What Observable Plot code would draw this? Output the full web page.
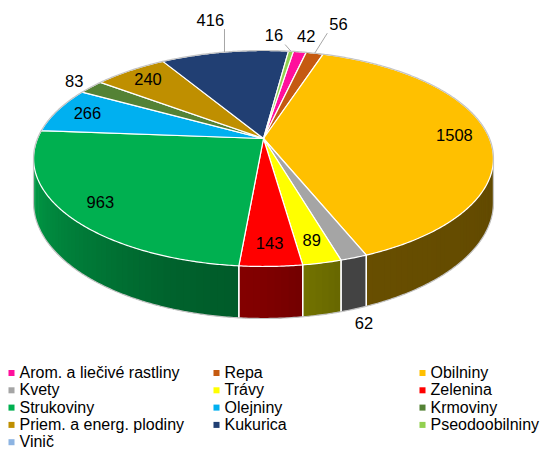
<!DOCTYPE html>
<html>
<head>
<meta charset="utf-8">
<script src="https://cdn.jsdelivr.net/npm/d3@7"></script>
<script src="https://cdn.jsdelivr.net/npm/@observablehq/plot@0.6"></script>
<style>
  html, body { margin: 0; padding: 0; background: #fff; }
  #chart { width: 540px; height: 451px; overflow: hidden; }
</style>
</head>
<body>
<div id="chart"></div>
<script>
// ---------- data ----------
const categories = ["Arom. a liečivé rastliny", "Repa", "Obilniny", "Kvety", "Trávy", "Zelenina",
  "Strukoviny", "Olejniny", "Krmoviny", "Priem. a energ. plodiny", "Kukurica", "Pseodoobilniny", "Vinič"];
const values = [42, 56, 1508, 62, 89, 143, 963, 266, 83, 240, 416, 16, 0];
const colors = ["#FF109C", "#C55A11", "#FFC000", "#A5A5A5", "#FFFF00", "#FF0000",
  "#00B050", "#00B0F0", "#548235", "#BF8F00", "#213F73", "#92D050", "#8DB4E2"];

// ---------- layout (3D pie projection) ----------
const W = 540, H = 451;
const CX = 263, CY = 138;      // apex of the pie on screen
const A = 226, B = 104.3;      // horizontal / vertical radius factors
const K = 0.185;               // perspective strength
const DEPTH = 42.4;            // thickness of the pie
const START = 9;               // first slice angle (degrees, clockwise from top)
const outsideNames = new Set(["Arom. a liečivé rastliny", "Repa", "Kvety", "Krmoviny", "Kukurica", "Pseodoobilniny"]);
const farNames = new Set(["Kukurica", "Repa"]);

const rad = d => d * Math.PI / 180;
function proj(thetaDeg, r, down) {
  const t = rad(thetaDeg);
  const u = r * Math.sin(t), v = r * Math.cos(t);
  const w = 1 + K * v;
  return [CX + A * u / w, CY - B * v / w + (down ? DEPTH / w : 0)];
}

const total = d3.sum(values);
let acc = 0;
const slices = categories.map((name, i) => {
  const a0 = START + acc / total * 360;
  acc += values[i];
  const a1 = START + acc / total * 360;
  return {name, value: values[i], color: colors[i], a0, a1, i};
}).filter(s => s.value > 0);

// visible side range
const V0 = Math.acos(-K) * 180 / Math.PI, V1 = 360 - V0;

// shading factor for the side wall
const shade = d3.scaleLinear().domain([100, 165, 180, 200, 260]).range([0.38, 0.41, 0.5, 0.56, 0.9]).clamp(true);
function darken(c, f) {
  const o = d3.rgb(c);
  return d3.rgb(o.r * f, o.g * f, o.b * f).formatHex();
}

// top faces
const topRows = [];
for (const s of slices) {
  const id = "t" + s.i;
  const c = proj(0, 0, false);
  topRows.push({id, x: c[0], y: c[1], fill: s.color});
  const n = Math.max(2, Math.ceil((s.a1 - s.a0) / 0.5));
  for (let k = 0; k <= n; k++) {
    const a = s.a0 + (s.a1 - s.a0) * k / n;
    const p = proj(a, 1, false);
    topRows.push({id, x: p[0], y: p[1], fill: s.color});
  }
}

// side walls (small overlapping segments for gradient shading)
const sideRows = [];
const sideEdges = [];
for (const s of slices) {
  for (const off of [0, -360]) {
    const lo = Math.max(s.a0 + off, V0), hi = Math.min(s.a1 + off, V1);
    if (hi <= lo) continue;
    const n = Math.max(1, Math.ceil((hi - lo) / 1.5));
    for (let k = 0; k < n; k++) {
      const b0 = lo + (hi - lo) * k / n;
      const b1 = Math.min(hi, lo + (hi - lo) * (k + 1) / n + 0.8);
      const col = darken(s.color, shade(lo + (hi - lo) * (k + 0.5) / n));
      const id = "s" + s.i + "_" + off + "_" + k;
      const steps = 4;
      for (let q = 0; q <= steps; q++) { const p = proj(b0 + (b1 - b0) * q / steps, 1, false); sideRows.push({id, x: p[0], y: p[1], fill: col}); }
      for (let q = steps; q >= 0; q--) { const p = proj(b0 + (b1 - b0) * q / steps, 1, true); sideRows.push({id, x: p[0], y: p[1], fill: col}); }
    }
    for (const a of [s.a0 + off, s.a1 + off]) {
      if (a > V0 + 0.2 && a < V1 - 0.2) {
        const p = proj(a, 1, false), q = proj(a, 1, true);
        sideEdges.push({x1: p[0], y1: p[1], x2: q[0], y2: q[1]});
      }
    }
  }
}

// outline (silhouette)
const outline = [];
for (let a = V1; a <= V0 + 360 + 1e-9; a += 0.5) { const p = proj(a, 1, false); outline.push({x: p[0], y: p[1]}); }
for (let a = V0; a <= V1 + 1e-9; a += 0.5) { const p = proj(a, 1, true); outline.push({x: p[0], y: p[1]}); }

// labels
const FS = 16.5, CHW = 9.1, LH = 13;
const labels = [];
for (const s of slices) {
  const mid = (s.a0 + s.a1) / 2;
  const text = String(s.value);
  if (!outsideNames.has(s.name)) {
    const p = proj(mid, 0.85, false);
    labels.push({x: p[0], y: p[1], text, outside: false});
  } else {
    const t = rad(mid);
    const front = Math.cos(t) < -K;
    const anc = proj(mid, 1, front);
    const cx0 = CX, cy0 = CY + (front ? DEPTH : 0);
    let dx = anc[0] - cx0, dy = anc[1] - cy0;
    const len = Math.hypot(dx, dy); dx /= len; dy /= len;
    const w = text.length * CHW;
    const half = Math.abs(dx) * w / 2 + Math.abs(dy) * LH / 2;
    const far = farNames.has(s.name);
    const gap = 7 + half + (far ? 16 : 0);
    labels.push({x: anc[0] + dx * gap, y: anc[1] + dy * gap, x0: anc[0] + dx * gap, y0: anc[1] + dy * gap,
      ax: anc[0], ay: anc[1], text, w, far, order: s.i, outside: true});
  }
}
// resolve overlaps: the later label in the series moves away horizontally
const outs = labels.filter(l => l.outside);
for (let it = 0; it < 50; it++) {
  for (let i = 0; i < outs.length; i++) for (let j = 0; j < outs.length; j++) {
    if (i === j) continue;
    const a = outs[i], b = outs[j];
    if (a.order <= b.order) continue; // a is later; move a
    const ox = (a.w + b.w) / 2 + 14 - Math.abs(a.x - b.x);
    const oy = LH + 2 - Math.abs(a.y - b.y);
    if (ox > 0 && oy > 0) a.x += (a.x <= b.x ? -1 : 1) * ox;
  }
}
const leaders = [];
for (const l of outs) {
  if (l.far || Math.hypot(l.x - l.x0, l.y - l.y0) > 6) {
    const bx = Math.max(l.x - l.w / 2 - 2, Math.min(l.ax, l.x + l.w / 2 + 2));
    const by = Math.max(l.y - LH / 2 - 2, Math.min(l.ay, l.y + LH / 2 + 2));
    leaders.push({x1: bx, y1: by, x2: l.ax, y2: l.ay});
  }
}

// legend
const legendRows = categories.map((name, i) => ({
  name, color: colors[i],
  x: [11, 216, 422][i % 3],
  y: 372.5 + Math.floor(i / 3) * 17.3
}));

const plot = Plot.plot({
  width: W, height: H,
  margin: 0,
  x: {domain: [0, W], range: [0, W], axis: null},
  y: {domain: [0, H], range: [0, H], axis: null},
  color: {type: "identity"},
  style: {background: "#fff", overflow: "visible"},
  marks: [
    Plot.line(sideRows, {x: "x", y: "y", z: "id", fill: "fill", stroke: null, curve: "linear-closed"}),
    Plot.link(sideEdges, {x1: "x1", y1: "y1", x2: "x2", y2: "y2", stroke: "white", strokeWidth: 1.3}),
    Plot.line(topRows, {x: "x", y: "y", z: "id", fill: "fill", stroke: "white", strokeWidth: 1.2, strokeLinejoin: "round", curve: "linear-closed"}),
    Plot.line(outline, {x: "x", y: "y", stroke: "#c4c4c4", strokeWidth: 1.2, curve: "linear-closed", fill: "none"}),
    Plot.link(leaders, {x1: "x1", y1: "y1", x2: "x2", y2: "y2", stroke: "#a6a6a6", strokeWidth: 1}),
    Plot.text(labels, {x: "x", y: "y", text: "text", fill: "#000", fontSize: FS, fontFamily: "Liberation Sans, Arial, sans-serif"}),
    Plot.dot(legendRows, {x: "x", y: "y", symbol: "square", r: 3.4, fill: "color", stroke: null}),
    Plot.text(legendRows, {x: d => d.x + 8, y: "y", text: "name", textAnchor: "start", fill: "#000", fontSize: 16, fontFamily: "Liberation Sans, Arial, sans-serif"})
  ]
});
document.getElementById("chart").appendChild(plot);
</script>
</body>
</html>
